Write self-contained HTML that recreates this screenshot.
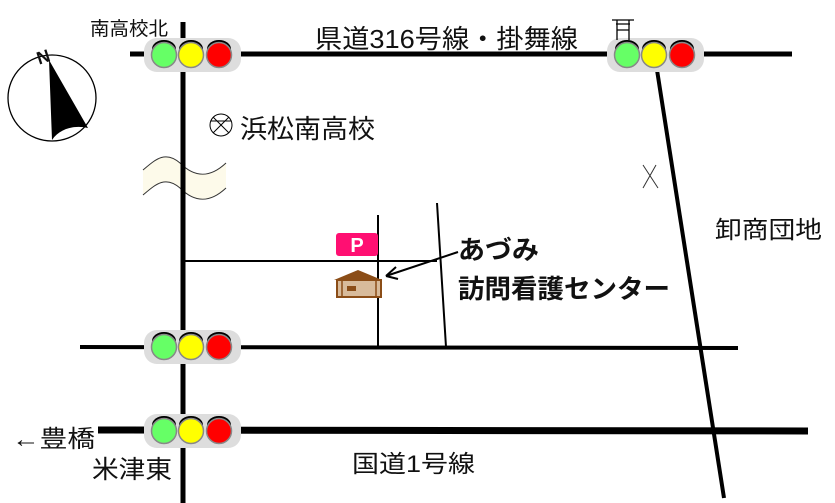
<!DOCTYPE html>
<html><head><meta charset="utf-8"><style>
html,body{margin:0;padding:0;background:#fff}
svg{display:block}
text{font-family:"Liberation Sans","Noto Sans CJK JP",sans-serif;fill:#111}
</style></head><body>
<svg width="835" height="503" viewBox="0 0 835 503" xmlns="http://www.w3.org/2000/svg">
<defs>
<g id="sig">
  <rect x="0" y="0" width="97" height="34" rx="13" fill="#ddd"/>
  <ellipse cx="20" cy="11" rx="12" ry="9" fill="#000"/>
  <ellipse cx="47" cy="11" rx="12" ry="9" fill="#000"/>
  <ellipse cx="75" cy="11" rx="12" ry="9" fill="#000"/>
  <circle cx="20" cy="17" r="12.5" fill="#66ff66" stroke="#888" stroke-width="1.5"/>
  <circle cx="47" cy="17" r="12.5" fill="#ffff00" stroke="#888" stroke-width="1.5"/>
  <circle cx="75" cy="17" r="12.5" fill="#ff0000" stroke="#888" stroke-width="1.5"/>
</g>
</defs>
<!-- roads -->
<line x1="130" y1="54" x2="792" y2="54" stroke="#000" stroke-width="5"/>
<line x1="183" y1="22" x2="183" y2="503" stroke="#000" stroke-width="5"/>
<line x1="657" y1="70" x2="724" y2="498" stroke="#000" stroke-width="4"/>
<line x1="80" y1="347" x2="738" y2="348" stroke="#000" stroke-width="4"/>
<line x1="98" y1="430" x2="808" y2="431" stroke="#000" stroke-width="7"/>
<line x1="183" y1="261" x2="437" y2="261" stroke="#000" stroke-width="2"/>
<line x1="378" y1="215" x2="378" y2="347" stroke="#000" stroke-width="2"/>
<line x1="437" y1="203" x2="446" y2="347" stroke="#000" stroke-width="2"/>
<!-- wave -->
<path d="M143 170 C155 160,165 150,180 163 C195 178,210 178,226 163 L226 188 C210 203,195 203,180 188 C165 175,155 185,143 195 Z" fill="#fdfaea"/>
<path d="M143 170 C155 160,165 150,180 163 C195 178,210 178,226 163" fill="none" stroke="#333" stroke-width="1"/>
<path d="M143 195 C155 185,165 175,180 188 C195 203,210 203,226 188" fill="none" stroke="#333" stroke-width="1"/>
<line x1="183" y1="140" x2="183" y2="210" stroke="#000" stroke-width="5"/>
<!-- signals -->
<use href="#sig" x="144" y="38"/>
<use href="#sig" x="607" y="38"/>
<use href="#sig" x="144" y="330"/>
<use href="#sig" x="144" y="414"/>
<!-- compass -->
<ellipse cx="52" cy="98" rx="44" ry="43" fill="none" stroke="#000" stroke-width="1.3"/>
<path d="M49 60 L88 128 C75 125,60 128,52 140 Z" fill="#000"/>
<text x="36" y="62" font-size="18" font-weight="bold" transform="rotate(-18 46 54)">N</text>
<!-- school -->
<circle cx="221" cy="125" r="11" fill="none" stroke="#000" stroke-width="1"/>
<line x1="213" y1="117" x2="229" y2="133" stroke="#000"/><line x1="229" y1="117" x2="213" y2="133" stroke="#000"/>
<line x1="211" y1="121" x2="231" y2="121" stroke="#000"/>
<text x="240" y="138" font-size="26" textLength="135" lengthAdjust="spacingAndGlyphs">浜松南高校</text>
<!-- shrine -->
<path d="M612 20 H634 M616 24 H630 M617 20 V40 M629 20 V40 M617 30 H629" stroke="#000" stroke-width="1.3" fill="none"/>
<!-- X -->
<path d="M643 165 L658 188 M656 165 L643 188" stroke="#333" stroke-width="1"/>
<!-- P & house -->
<rect x="336" y="233" width="42" height="23" rx="3" fill="#ff0f72"/>
<text x="357" y="252" font-size="20" font-weight="bold" text-anchor="middle" style="fill:#fff">P</text>
<path d="M334 280 L358 270 L382 280 Z" fill="#8b4d17"/>
<rect x="337" y="280" width="44" height="17" fill="#d8bb9b" stroke="#8b4d17" stroke-width="2"/>
<line x1="342" y1="281" x2="342" y2="297" stroke="#8b4d17" stroke-width="1.5"/>
<line x1="376" y1="281" x2="376" y2="297" stroke="#8b4d17" stroke-width="1.5"/>
<rect x="347" y="286" width="9" height="5" fill="#8b4d17"/>
<line x1="458" y1="252" x2="386" y2="276" stroke="#000" stroke-width="2"/>
<path d="M386 276 L396 267 M386 276 L398 279" stroke="#000" stroke-width="2"/>
<text x="458" y="259" font-size="26" font-weight="bold" textLength="81" lengthAdjust="spacingAndGlyphs">あづみ</text>
<text x="458" y="298" font-size="26" font-weight="bold" textLength="212" lengthAdjust="spacingAndGlyphs">訪問看護センター</text>
<!-- labels -->
<text x="90" y="35" font-size="19" textLength="78" lengthAdjust="spacingAndGlyphs">南高校北</text>
<text x="315" y="48" font-size="26" textLength="263" lengthAdjust="spacingAndGlyphs">県道316号線・掛舞線</text>
<text x="715" y="238" font-size="24" textLength="107" lengthAdjust="spacingAndGlyphs">卸商団地</text>
<text x="352" y="472" font-size="24" textLength="123" lengthAdjust="spacingAndGlyphs">国道1号線</text>
<text x="12" y="447" font-size="24" textLength="83" lengthAdjust="spacingAndGlyphs">←豊橋</text>
<text x="92" y="478" font-size="25" textLength="80" lengthAdjust="spacingAndGlyphs">米津東</text>
</svg>
</body></html>
